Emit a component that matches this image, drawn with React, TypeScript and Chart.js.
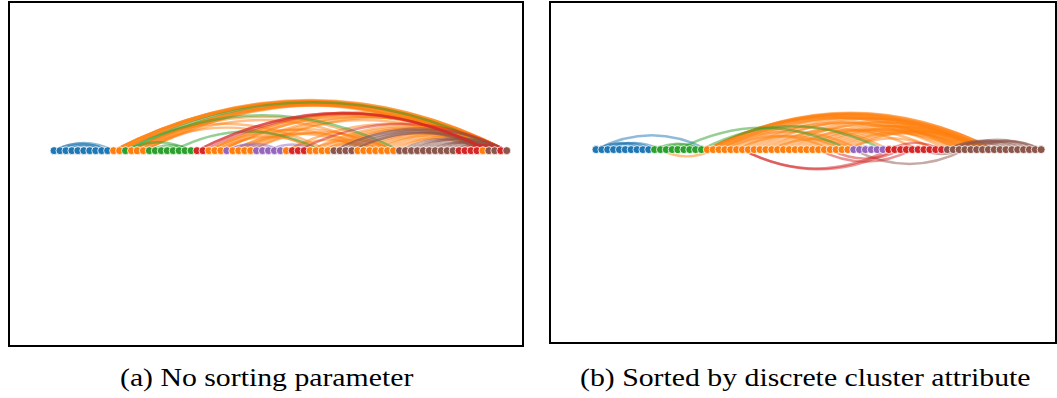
import React, { useEffect, useLayoutEffect, useRef } from 'react';
import { Chart, registerables } from 'chart.js';
Chart.register(...registerables);

// group codes: b=blue, o=orange, g=green, r=red, p=purple, n=brown
const GROUP_RGB: Record<string, string> = {
  b: '31,119,180',
  o: '255,127,14',
  g: '44,160,44',
  r: '214,39,40',
  p: '148,103,189',
  n: '140,86,75',
};

// node cluster attribute in original order (panel a)
const nodesA: string[] = [
  'b','b','b','b','b','b','b','b','b','b',
  'o','o','g','o','o','o',
  'g','g','g','g','g','g','g','g',
  'r','r','o','o','o','p','o','o','o','o',
  'p','p','p','p','p','o','r','r','r',
  'o','o','o','o','n','n','n','n',
  'o','o','o','o','o','o','o',
  'n','n','n','n','n','n','n','n','n','n',
  'r','r','r','r','o','n','n','r','n',
];

// sort order of the discrete cluster attribute (panel b)
const sortOrder: string[] = ['b', 'g', 'o', 'p', 'r', 'n'];
const nodesB: string[] = [...nodesA].sort((a, c) => sortOrder.indexOf(a) - sortOrder.indexOf(c));

// edges as [from node position, to node position]
const edgesA: [number, number][] = [
  // orange
  [10,75],[10,74],[11,75],[11,76],[13,74],[13,75],[14,73],[15,74],[10,72],[11,72],[13,72],[14,75],[15,76],[10,76],[12,75],
  [26,74],[27,75],[28,73],[30,74],[31,75],[32,72],[33,76],[39,74],[26,76],[28,75],
  [43,75],[44,74],[45,73],[46,76],[51,74],[52,75],[53,73],[54,76],[55,74],[56,72],[57,75],
  [13,57],[15,55],[26,53],[28,56],[30,52],[11,46],[14,44],[27,45],[31,54],[33,57],[43,57],[45,55],[39,53],[72,76],
  // blue
  [0,9],[1,9],[0,10],[2,8],
  // green
  [12,58],[16,23],[18,23],[20,45],[12,23],
  // purple
  [29,38],[34,38],[29,36],[36,44],
  // brown
  [47,74],[48,73],[49,76],[50,74],[47,76],[50,73],[58,74],[60,76],[62,73],[64,76],[66,74],[59,73],[61,76],[63,74],[65,76],[67,76],
  // red
  [24,73],[25,73],[24,73],[41,76],[68,75],[69,76],
];

const edgesB: [number, number][] = [
  // orange
  [19,67],[19,68],[19,66],[20,66],[20,68],[21,67],[19,64],[22,65],[23,66],[25,67],[27,68],[29,66],[31,67],
  [33,65],[35,66],[37,67],[39,64],[41,66],[43,67],[30,63],[26,62],[24,60],[28,55],[32,58],[21,45],[20,50],
  [34,61],[36,63],[38,65],[40,62],[42,64],[22,40],[24,42],[30,44],[43,58],[19,62],[21,63],[20,11],
  // blue
  [0,19],[0,9],[1,10],[2,11],[0,8],
  // green
  [10,18],[11,18],[14,43],[18,49],[12,17],
  // purple
  [44,48],
  // brown
  [63,44],[62,56],[60,72],[61,73],[62,75],[64,76],[60,70],[63,74],[65,76],[61,71],
  // red
  [51,25],[50,25],[54,38],[52,40],[50,59],
];

const captionA = '(a) No sorting parameter';
const captionB = '(b) Sorted by discrete cluster attribute';

type PanelProps = {
  nodes: string[];
  edges: [number, number][];
  left: number; top: number; width: number; height: number;
  xMin: number; xMax: number; yMin: number; yMax: number;
};

function ArcPanel(p: PanelProps) {
  const ref = useRef<HTMLCanvasElement | null>(null);
  useEffect(() => {
    if (!ref.current) return;
    const arcPlugin = {
      id: 'arcEdges',
      beforeDatasetsDraw(chart: any) {
        const ctx = chart.ctx as CanvasRenderingContext2D;
        const xs = chart.scales.x, ys = chart.scales.y;
        const yb = ys.getPixelForValue(0);
        const ordered = [...p.edges].sort((e1, e2) => {
          const a1 = p.nodes[e1[0]] === 'o' ? 0 : 1;
          const a2 = p.nodes[e2[0]] === 'o' ? 0 : 1;
          return a1 - a2;
        });
        ctx.save();
        ctx.lineWidth = 2.4;
        ctx.lineCap = 'round';
        for (const [f, t] of ordered) {
          const x1 = xs.getPixelForValue(f);
          const x2 = xs.getPixelForValue(t);
          const yc = ys.getPixelForValue((t - f) / 2);
          ctx.strokeStyle = `rgba(${GROUP_RGB[p.nodes[f]]},0.5)`;
          ctx.beginPath();
          ctx.moveTo(x1, yb);
          ctx.quadraticCurveTo((x1 + x2) / 2, yc, x2, yb);
          ctx.stroke();
        }
        ctx.restore();
      },
    };
    const chart = new Chart(ref.current, {
      type: 'scatter',
      data: {
        datasets: [{
          data: p.nodes.map((_, i) => ({ x: i, y: 0 })),
          pointRadius: 4,
          pointBackgroundColor: p.nodes.map((g) => `rgb(${GROUP_RGB[g]})`),
          pointBorderColor: '#ffffff',
          pointBorderWidth: 0.8,
        }],
      },
      options: {
        animation: false,
        responsive: false,
        devicePixelRatio: 1,
        layout: { padding: 0 },
        plugins: { legend: { display: false }, tooltip: { enabled: false } },
        scales: {
          x: { type: 'linear', display: false, min: p.xMin, max: p.xMax },
          y: { type: 'linear', display: false, min: p.yMin, max: p.yMax },
        },
      },
      plugins: [arcPlugin],
    });
    return () => chart.destroy();
  }, []);
  const iw = p.width - 4, ih = p.height - 4;
  return (
    <div style={{ position: 'absolute', left: p.left, top: p.top, width: iw, height: ih, border: '2px solid #000' }}>
      <canvas ref={ref} width={iw} height={ih} style={{ display: 'block', width: iw, height: ih }} />
    </div>
  );
}

function Caption({ text, left, width, top }: { text: string; left: number; width: number; top: number }) {
  const ref = useRef<HTMLSpanElement | null>(null);
  useLayoutEffect(() => {
    const el = ref.current;
    if (!el) return;
    const w = el.offsetWidth;
    if (w > 0) el.style.transform = `scaleX(${width / w})`;
  }, []);
  return (
    <div style={{ position: 'absolute', left, top, whiteSpace: 'nowrap', fontFamily: '"Liberation Serif", "Times New Roman", serif', fontSize: 26, lineHeight: '26px', color: '#000' }}>
      <span ref={ref} style={{ display: 'inline-block', transformOrigin: 'left center' }}>{text}</span>
    </div>
  );
}

export default function App() {
  return (
    <div style={{ position: 'absolute', left: 0, top: 0, width: 1057, height: 398, background: '#fff', overflow: 'hidden' }}>
      <ArcPanel nodes={nodesA} edges={edgesA} left={8} top={1} width={516} height={346}
        xMin={-6.59} xMax={77.76} yMin={-61.7} yMax={46.5} />
      <ArcPanel nodes={nodesB} edges={edgesB} left={549} top={1} width={508} height={343}
        xMin={-6.87} xMax={77.55} yMin={-62.3} yMax={47.1} />
      <Caption text={captionA} left={120} width={293} top={365} />
      <Caption text={captionB} left={580} width={450} top={365} />
    </div>
  );
}
